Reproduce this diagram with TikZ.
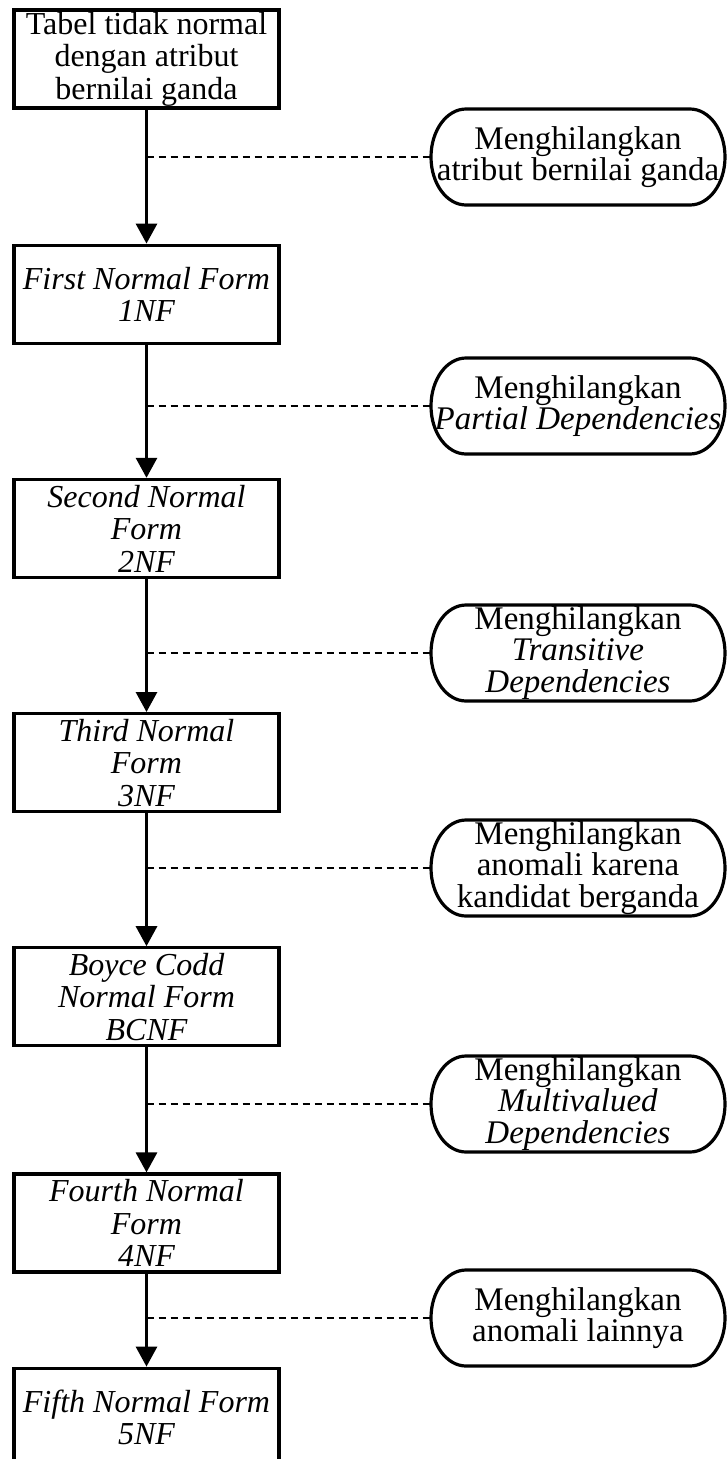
\documentclass[tikz,border=0pt]{standalone}
\usepackage{fontspec}
\setmainfont{Liberation Serif}
\usepackage{tikz}
\usetikzlibrary{arrows.meta, positioning}

\tikzset{
  box/.style={draw, rectangle, line width=3.2pt, text centered, align=center,
    minimum height=98pt, minimum width=265pt, inner sep=0pt,
    font=\fontsize{32}{32.5}\selectfont},
  formbox/.style={box, font=\fontsize{32}{32.5}\selectfont\itshape},
  capsule/.style={rectangle, text centered, align=center, inner sep=0pt, outer sep=0pt,
    minimum height=96pt, minimum width=294pt,
    font=\fontsize{33}{31.5}\selectfont},
  flow/.style={line width=3pt, -{Triangle[length=20pt, width=21pt]}},
  dashline/.style={line width=2.4pt, dash pattern=on 7pt off 5pt},
  capline/.style={line width=3.2pt}
}

\begin{document}
\begin{tikzpicture}[x=1pt, y=1pt]

    \useasboundingbox (0,0) rectangle (726,-1459);

    % Nodes for the normal forms, one below the other
    \node (tabel) [box] at (146.5,-59) {Tabel tidak normal\\dengan atribut\\bernilai ganda};
    \node (nfa) [formbox, below=134pt of tabel] {First Normal Form\\1NF};
    \node (nfb) [formbox, below=133pt of nfa] {Second Normal\\Form\\2NF};
    \node (nfc) [formbox, below=133pt of nfb] {Third Normal\\Form\\3NF};
    \node (bcnf) [formbox, below=133pt of nfc] {Boyce Codd\\Normal Form\\BCNF};
    \node (nfd) [formbox, below=125pt of bcnf] {Fourth Normal\\Form\\4NF};
    \node (nfe) [formbox, below=93pt of nfd] {Fifth Normal Form\\5NF};

    % Nodes for what is removed at each step
    \node (hapusA) [capsule] at (578,-157) {Menghilangkan\\atribut bernilai ganda};
    \node (hapusB) [capsule] at (578,-406) {Menghilangkan\\\textit{Partial Dependencies}};
    \node (hapusC) [capsule] at (578,-653) {Menghilangkan\\\textit{Transitive}\\\textit{Dependencies}};
    \node (hapusD) [capsule] at (578,-868) {Menghilangkan\\anomali karena\\kandidat berganda};
    \node (hapusE) [capsule] at (578,-1104) {Menghilangkan\\\textit{Multivalued}\\\textit{Dependencies}};
    \node (hapusF) [capsule] at (578,-1318) {Menghilangkan\\anomali lainnya};

    % Outline of the rounded ends
    \foreach \t in {hapusA, hapusB, hapusC, hapusD, hapusE, hapusF}
        \draw[capline] ([xshift=35pt]\t.north west) -- ([xshift=-35pt]\t.north east)
            arc[start angle=90, end angle=-90, x radius=35pt, y radius=48pt]
            -- ([xshift=35pt]\t.south west)
            arc[start angle=270, end angle=90, x radius=35pt, y radius=48pt] -- cycle;

    % Draw arrows between the forms
    \draw[flow] (tabel) -- (nfa);
    \draw[flow] (nfa) -- (nfb);
    \draw[flow] (nfb) -- (nfc);
    \draw[flow] (nfc) -- (bcnf);
    \draw[flow] (bcnf) -- (nfd);
    \draw[flow] (nfd) -- (nfe);

    % Dashed links to the arrows
    \draw[dashline] (hapusA.west -| tabel) -- (hapusA.west);
    \draw[dashline] (hapusB.west -| nfa) -- (hapusB.west);
    \draw[dashline] (hapusC.west -| nfb) -- (hapusC.west);
    \draw[dashline] (hapusD.west -| nfc) -- (hapusD.west);
    \draw[dashline] (hapusE.west -| bcnf) -- (hapusE.west);
    \draw[dashline] (hapusF.west -| nfd) -- (hapusF.west);

\end{tikzpicture}
\end{document}
